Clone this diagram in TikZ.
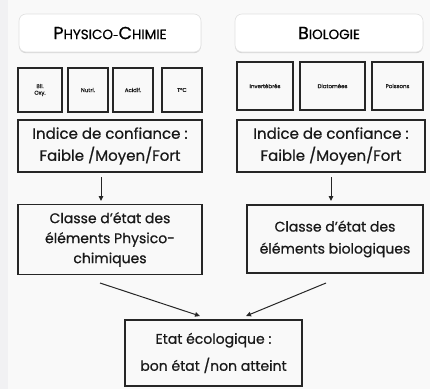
\documentclass[tikz,border=0pt]{standalone}
\usepackage{fontspec}
\setmainfont{Poppins}[FakeBold=0.7]
\usetikzlibrary{arrows.meta,shadows}
\newcommand{\fsc}[2]{{\fontsize{17.5}{18}\selectfont #1}{\fontsize{13.5}{14}\selectfont #2}}
\tikzset{
  box/.style={draw=black!85, line width=1.3pt, align=center, inner sep=0pt, text=black!90},
  small/.style={box, font=\fontsize{5.5}{6.5}\selectfont},
  big/.style={box, font=\fontsize{15}{22}\selectfont},
  head/.style={rounded corners=7pt, fill=white, draw=black!12, line width=0.6pt, inner sep=0pt,
     drop shadow={shadow xshift=0pt, shadow yshift=-1.2pt, opacity=0.35, fill=black!40}},
  arr/.style={-{Triangle[length=5pt,width=4.5pt]}, line width=1pt, draw=black!85},
}
\begin{document}
\begin{tikzpicture}[x=1pt,y=-1pt]
\useasboundingbox (0,0) rectangle (430,389);
\fill[white!95!gray] (0,0) rectangle (430,389);
\fill[blue!6!gray!10] (0,0) rectangle (8,389);
% headers
\node[head, minimum width=182, minimum height=38] (hpc) at (110,33) {};
\node at (hpc) {\fsc{P}{HYSICO}-\fsc{C}{HIMIE}};
\node[head, minimum width=188, minimum height=38] (hbio) at (329,33) {};
\node at (hbio) {\fsc{B}{IOLOGIE}};
% small boxes PC
\node[small, minimum width=44, minimum height=44] (s1) at (40,90) {Bil.\\Oxy.};
\node[small, minimum width=40, minimum height=44] (s2) at (88,90) {Nutri.};
\node[small, minimum width=40, minimum height=44] (s3) at (133,90) {Acidif.};
\node[small, minimum width=40, minimum height=44] (s4) at (182,90) {T°C};
% small boxes bio
\node[small, minimum width=56, minimum height=48] (b1) at (265,86) {Invertébrés};
\node[small, minimum width=65, minimum height=48] (b2) at (332.5,86) {Diatomées};
\node[small, minimum width=51, minimum height=48] (b3) at (397.5,86) {Poissons};
% indice
\node[big, minimum width=184, minimum height=52] (ipc) at (110,146) {Indice de confiance :\\Faible /Moyen/Fort};
\node[big, minimum width=188, minimum height=52] (ibio) at (331,146) {Indice de confiance :\\Faible /Moyen/Fort};
% classe
\node[big, font=\fontsize{14}{20}\selectfont, minimum width=184, minimum height=70] (cpc) at (110,239.5) {Classe d’état des\\éléments Physico-\\chimiques};
\node[big, font=\fontsize{14}{22}\selectfont, minimum width=176, minimum height=68] (cbio) at (335,239) {Classe d’état des\\éléments biologiques};
% etat
\node[big, font=\fontsize{14}{27}\selectfont, minimum width=177, minimum height=66] (etat) at (213.5,353) {Etat écologique :\\bon état /non atteint};
% arrows
\coordinate (a1s) at (101,177);
\coordinate (a1e) at (101,201);
\draw[arr] (a1s) -- (a1e);
\coordinate (a2s) at (331,177);
\coordinate (a2e) at (331,201);
\draw[arr] (a2s) -- (a2e);
\coordinate (d1s) at (100,283);
\coordinate (d1e) at (200,316);
\draw[arr] (d1s) -- (d1e);
\coordinate (d2s) at (326,283);
\coordinate (d2e) at (246,316);
\draw[arr] (d2s) -- (d2e);
\end{tikzpicture}
\end{document}
